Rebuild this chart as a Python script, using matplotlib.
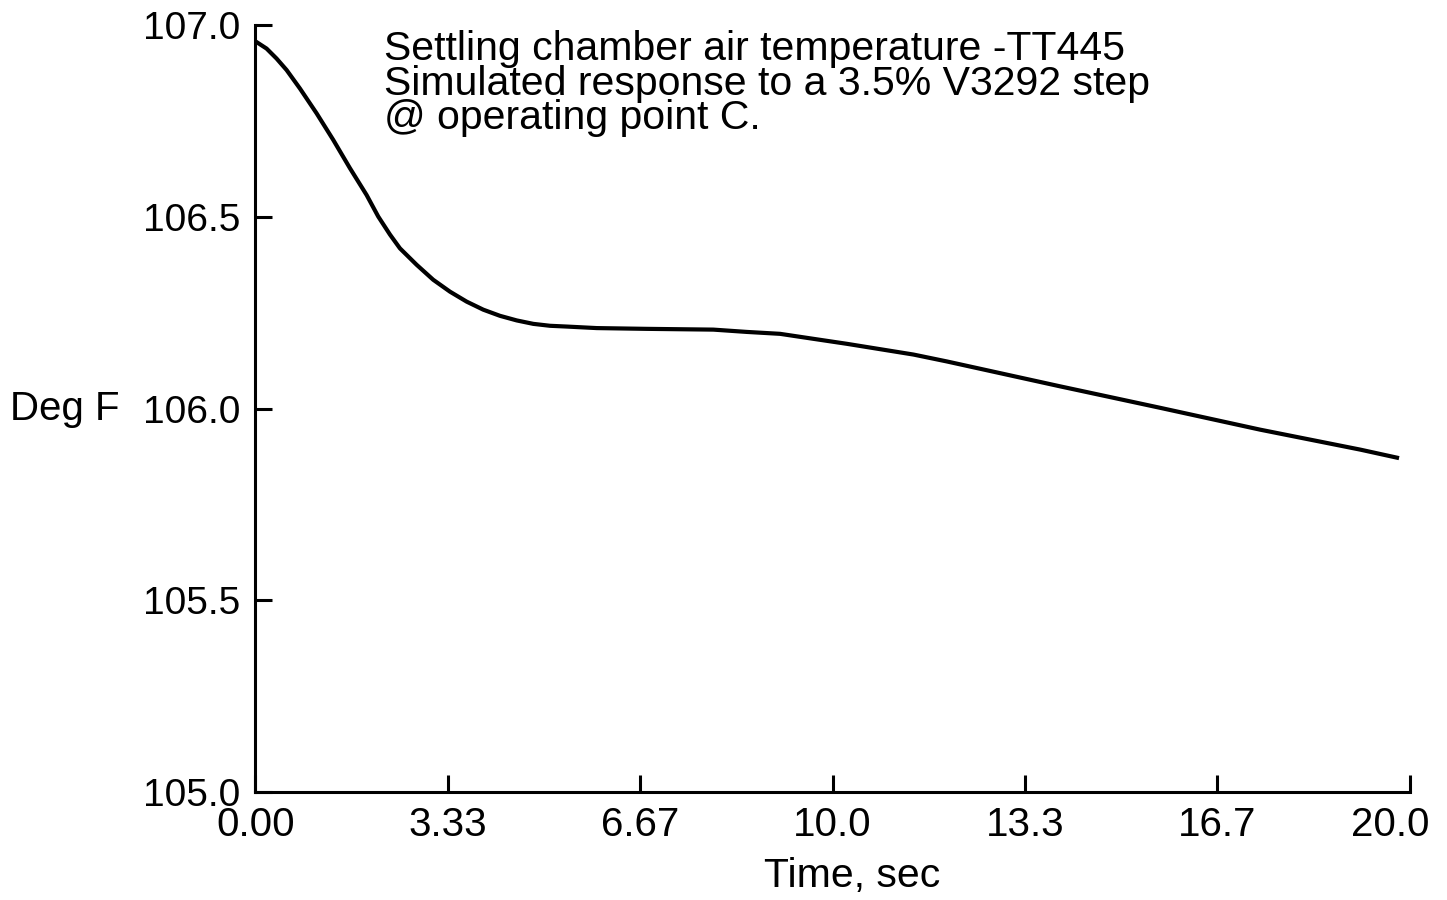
import numpy as np
import matplotlib
matplotlib.use('Agg')
import matplotlib.pyplot as plt
import matplotlib.transforms as mtransforms

plt.rcParams['font.family'] = ['Liberation Sans', 'DejaVu Sans']

" DATA "
time = [0.0, 0.194, 0.367, 0.541, 0.771, 1.061, 1.348, 1.638, 1.927, 2.128,
        2.331, 2.504, 2.794, 3.081, 3.371, 3.660, 3.948, 4.237, 4.527, 4.815,
        5.104, 5.393, 5.913, 6.780, 7.934, 8.513, 9.090, 9.667, 10.246,
        10.823, 11.400, 11.979, 13.943, 15.676, 17.409, 19.142, 19.778]  # [s]
temp = [106.958, 106.939, 106.913, 106.883, 106.835, 106.770, 106.701, 106.627,
        106.557, 106.501, 106.454, 106.418, 106.375, 106.336, 106.305, 106.279,
        106.258, 106.242, 106.230, 106.221, 106.216, 106.214, 106.210, 106.208,
        106.206, 106.200, 106.195, 106.182, 106.169, 106.155, 106.141, 106.123,
        106.058, 106.002, 105.945, 105.893, 105.872]  # [deg F]

x_ticks = [0.0, 10/3, 20/3, 10.0, 40/3, 50/3, 20.0]
x_ticklabels = ['0.00', '3.33', '6.67', '10.0', '13.3', '16.7', '20.0']
y_ticks = [105.0, 105.5, 106.0, 106.5, 107.0]
y_ticklabels = ['105.0', '105.5', '106.0', '106.5', '107.0']

title_lines = ['Settling chamber air temperature -TT445',
               'Simulated response to a 3.5% V3292 step',
               '@ operating point C.']

fig = plt.figure(figsize=(14.47, 9.0), dpi=100)
ax = fig.add_axes([0.1765, 0.12, 0.7978, 0.852])

ax.plot(time, temp, color='black', lw=3.0, solid_joinstyle='round')

ax.set_xlim(0, 20)
ax.set_ylim(105, 107)
ax.set_xticks(x_ticks)
ax.set_xticklabels(x_ticklabels)
ax.set_yticks(y_ticks)
ax.set_yticklabels(y_ticklabels)

for s in ['top', 'right']:
    ax.spines[s].set_visible(False)
for s in ['left', 'bottom']:
    ax.spines[s].set_linewidth(2.2)

ax.tick_params(axis='both', direction='in', length=12.5, width=2.2)
ax.tick_params(axis='x', labelsize=29, pad=10)
ax.tick_params(axis='y', labelsize=28, pad=11)

# last x label sits a bit left of its tick in the original
lbl = ax.get_xticklabels()[-1]
lbl.set_transform(lbl.get_transform() + mtransforms.ScaledTranslation(-0.2, 0, fig.dpi_scale_trans))

ax.set_xlabel('Time, sec', fontsize=29.5)
ax.xaxis.set_label_coords(0.517, -0.11)
ax.xaxis.label.set_va('center')
ax.set_ylabel('Deg F', fontsize=29, rotation=0, ha='right', va='center')
ax.yaxis.set_label_coords(-0.118, 0.5)

ax.text(0.111, 0.994, '\n'.join(title_lines), transform=ax.transAxes,
        fontsize=29.5, va='top', ha='left', linespacing=0.89)

fig.savefig('out.png', dpi=100, facecolor='white')
